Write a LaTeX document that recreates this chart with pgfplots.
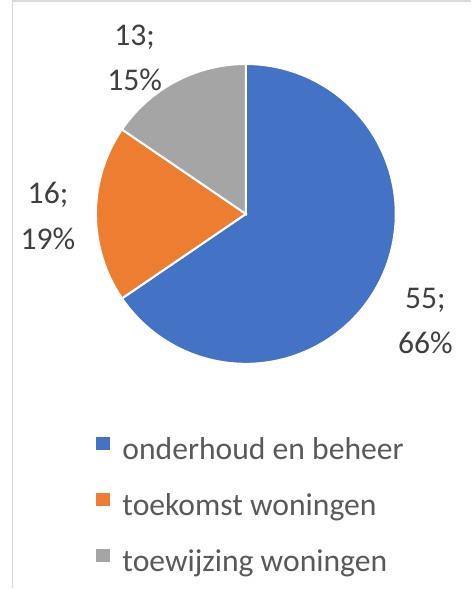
\documentclass[border=0pt]{standalone}
\usepackage{pgfplots}
\pgfplotsset{compat=1.18}
\usepackage{fontspec}
\setmainfont{Carlito}
\definecolor{cblue}{HTML}{4472C4}
\definecolor{corange}{HTML}{ED7D31}
\definecolor{cgray}{HTML}{A5A5A5}
\definecolor{lbl}{HTML}{404040}
\definecolor{leg}{HTML}{595959}
\definecolor{frm}{HTML}{D9D9D9}
\begin{document}
\def\va{55}\def\vb{16}\def\vc{13}
\pgfmathsetmacro\tot{\va+\vb+\vc}
\pgfmathsetmacro\aA{90-360*(\va/\tot)}
\pgfmathsetmacro\aB{\aA-360*(\vb/\tot)}
\pgfmathsetmacro\aC{\aB-360*(\vc/\tot)}
\begin{tikzpicture}
\begin{axis}[
  scale only axis, width=470pt, height=589pt,
  xmin=0, xmax=470, ymin=0, ymax=589,
  hide axis, clip=false,
  legend image code/.code={\fill[#1,draw=none] (0pt,2pt) rectangle (14pt,15pt); \path (0pt,0pt) -- (25pt,0pt);},
  legend cell align=left,
  legend style={draw=none, fill=none, at={(axis cs:101,149)}, anchor=north west,
    inner sep=0pt, outer sep=0pt, row sep=24pt,
    font=\fontsize{31}{37}\selectfont, text=leg,
    nodes={inner sep=0pt, outer sep=0pt, text height=23pt, text depth=8pt}},
]
\addplot[fill=cblue, draw=white, line width=2pt, domain=\aA:90, samples=120, variable=\t]
  ({249+147*cos(t)},{367+147*sin(t)}) -- (axis cs:249,367) -- cycle;
\addlegendentry{onderhoud en beheer}
\addplot[fill=corange, draw=white, line width=2pt, domain=\aB:\aA, samples=60, variable=\t]
  ({249+147*cos(t)},{367+147*sin(t)}) -- (axis cs:249,367) -- cycle;
\addlegendentry{toekomst woningen}
\addplot[fill=cgray, draw=white, line width=2pt, domain=\aC:\aB, samples=60, variable=\t]
  ({249+147*cos(t)},{367+147*sin(t)}) -- (axis cs:249,367) -- cycle;
\addlegendentry{toewijzing woningen}
\draw[frm, line width=1.5pt] (axis cs:470,576) -- (axis cs:20,576) -- (axis cs:20,0);
\begin{scope}[every node/.style={align=center, text=lbl, font=\fontsize{31}{45}\selectfont, inner sep=0pt}]
\node at (axis cs:140,520) {13;\\15\%};
\node at (axis cs:55,365) {16;\\19\%};
\node at (axis cs:425,262) {55;\\66\%};
\end{scope}
\end{axis}
\end{tikzpicture}
\end{document}
